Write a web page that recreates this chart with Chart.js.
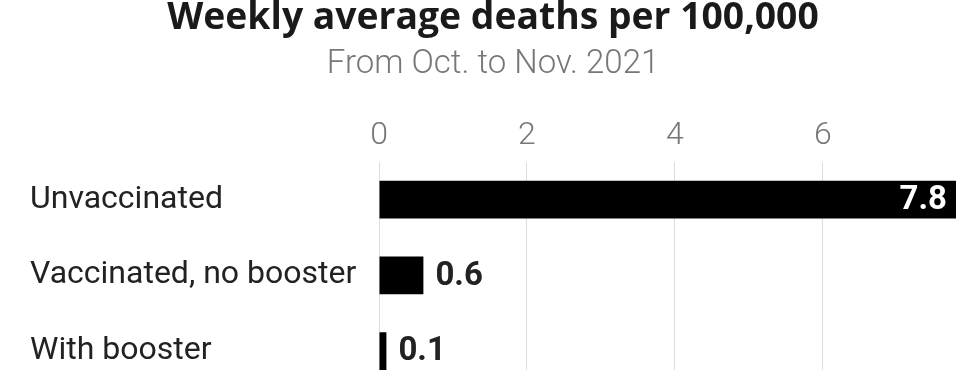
<!DOCTYPE html>
<html>
<head>
<meta charset="utf-8">
<script src="https://cdn.jsdelivr.net/npm/chart.js@4"></script>
<style>
  html, body { margin: 0; padding: 0; background: #fff; overflow: hidden; }
  canvas { display: block; }
</style>
</head>
<body>
<canvas id="chart" width="960" height="370"></canvas>
<script>
'use strict';

const groups = ['Unvaccinated', 'Vaccinated, no booster', 'With booster'];
const deaths = [7.8, 0.6, 0.1];
const xTicks = [0, 2, 4, 6];
const xMax = 7.8;

let canvasElem = document.getElementById('chart');

// the original is cropped just under the last bar, so let the plot run past the bottom edge
const cropBottom = {
  id: 'cropBottom',
  afterLayout(chart) {
    const area = chart.chartArea;
    const y = chart.scales.y;
    area.bottom += 19;
    area.height = area.bottom - area.top;
    y.bottom = area.bottom;
    y.height = area.height;
    y.configure();
  }
};

// writes the value next to (or inside) each bar
const valueLabels = {
  id: 'valueLabels',
  afterDatasetsDraw(chart) {
    const ctx = chart.ctx;
    const meta = chart.getDatasetMeta(0);
    ctx.save();
    ctx.font = 'bold 33px Roboto';
    ctx.textBaseline = 'middle';
    meta.data.forEach((bar, i) => {
      const val = deaths[i];
      const text = val.toFixed(1);
      if (val === Math.max(...deaths)) {
        ctx.fillStyle = '#fff';
        ctx.textAlign = 'right';
        ctx.fillText(text, bar.x - 9, bar.y + 1);
      } else {
        ctx.fillStyle = '#222';
        ctx.textAlign = 'left';
        ctx.fillText(text, bar.x + 12, bar.y + 1);
      }
    });
    ctx.restore();
  }
};

function renderChart() {
  const data = {
    labels: groups,
    datasets: [
      {
        label: 'Deaths per 100,000',
        data: deaths,
        backgroundColor: '#000',
        borderWidth: 0,
        categoryPercentage: 0.5,
        barPercentage: 1,
      },
    ],
  };

  const config = {
    type: 'bar',
    data: data,
    plugins: [cropBottom, valueLabels],
    options: {
      indexAxis: 'y',
      responsive: false,
      animation: false,
      layout: { padding: { left: 30, right: 4, top: 0, bottom: 0 } },
      plugins: {
        legend: { display: false },
        tooltip: { enabled: false },
        title: {
          display: true,
          text: 'Weekly average deaths per 100,000',
          color: '#1a1a1a',
          font: { family: 'Open Sans', size: 37.3, weight: 'bold', lineHeight: 1 },
          padding: { top: 0, bottom: 11 },
        },
        subtitle: {
          display: true,
          text: 'From Oct. to Nov. 2021',
          color: '#777',
          font: { family: 'Roboto', size: 33, weight: 300, lineHeight: 1 },
          padding: { top: 0, bottom: 28 },
        },
      },
      scales: {
        x: {
          position: 'top',
          min: 0,
          max: xMax,
          afterBuildTicks: scale => { scale.ticks = xTicks.map(v => ({ value: v })); },
          ticks: {
            color: '#777',
            padding: 7,
            font: { family: 'Roboto', size: 32, weight: 300, lineHeight: 1.2 },
          },
          grid: { color: '#ddd', drawTicks: false, lineWidth: 1 },
          border: { display: false },
        },
        y: {
          afterFit: scale => {
            scale.width = 349;
            scale.paddingTop = 0;
            scale.paddingBottom = 0;
          },
          ticks: {
            crossAlign: 'far',
            color: '#222',
            font: { family: 'Roboto', size: 32, lineHeight: 1.2 },
          },
          grid: { display: false },
          border: { display: false },
        },
      },
    },
  };

  new Chart(canvasElem, config);
}

renderChart();
</script>
</body>
</html>
